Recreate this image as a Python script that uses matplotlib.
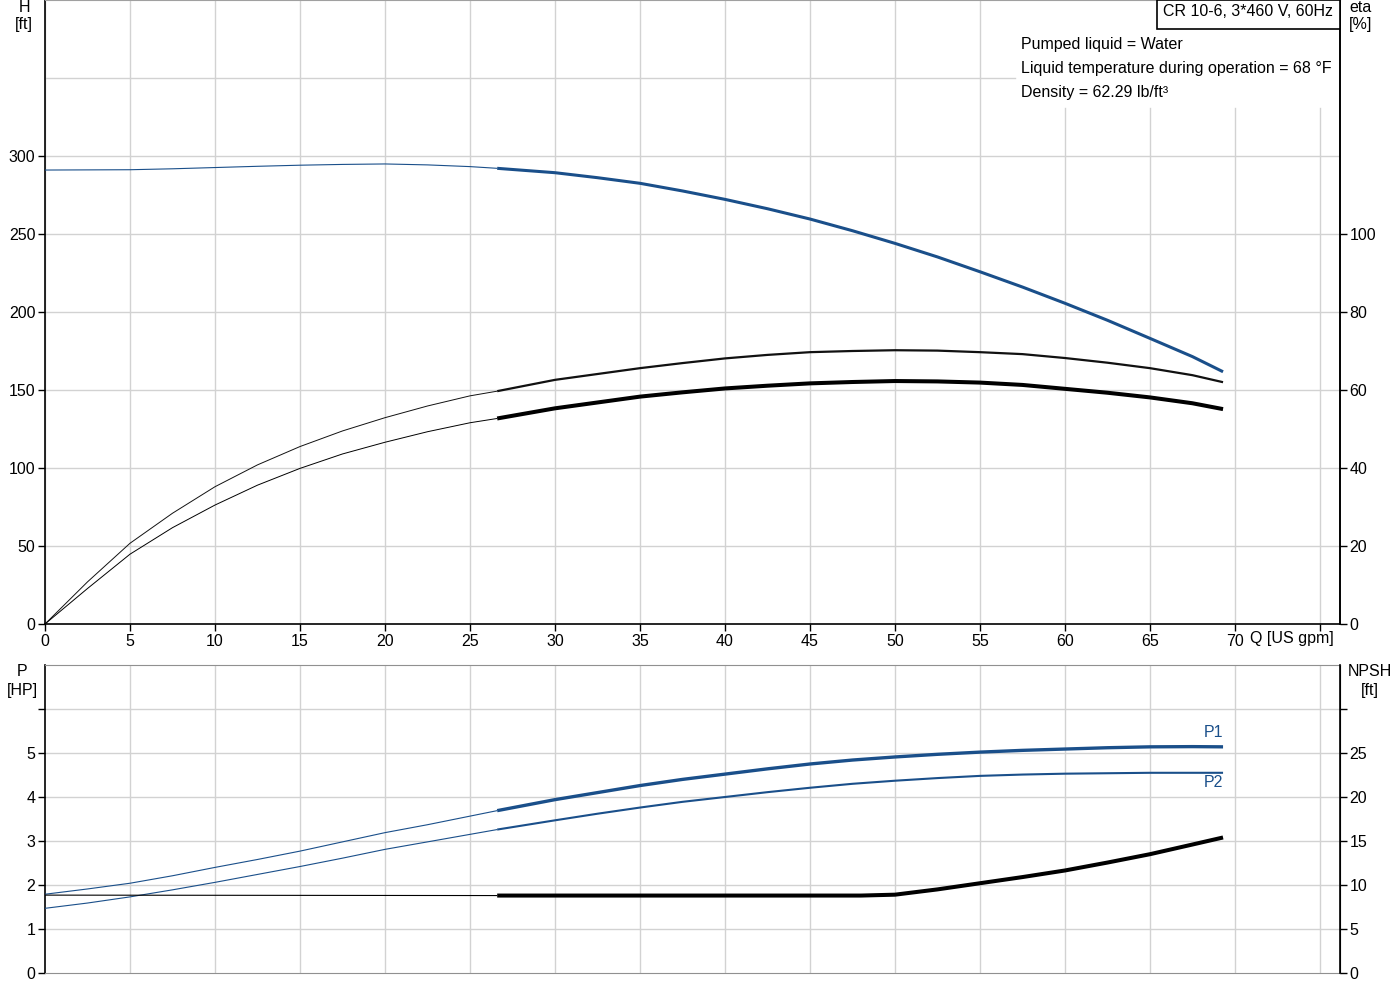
import numpy as np
import matplotlib
matplotlib.use("Agg")
import matplotlib.pyplot as plt
from matplotlib.patches import Rectangle

plt.rcParams['font.family'] = ['Liberation Sans', 'DejaVu Sans']
plt.rcParams['font.size'] = 11.5

# --- data ---
# head curve H [ft]
q_h = [0, 5, 7.5, 10, 12.5, 15, 17.5, 20, 22.5, 25, 26.6, 30, 32.5, 35, 37.5, 40, 42.5, 45,
       47.5, 50, 52.5, 55, 57.5, 60, 62.5, 65, 67.5, 69.3]
head = [291, 291.2, 291.8, 292.6, 293.4, 294.1, 294.6, 294.9, 294.3, 293.2, 292.1, 289.3, 286.1,
        282.5, 277.6, 272.2, 266.2, 259.6, 252.1, 244.0, 235.3, 225.8, 216.0, 205.6, 194.7,
        183.1, 171.4, 161.7]

# efficiency curves [%]
q_eta = [0, 2.5, 5, 7.5, 10, 12.5, 15, 17.5, 20, 22.5, 25, 26.6, 30, 32.5, 35, 37.5, 40, 42.5,
         45, 47.5, 50, 52.5, 55, 57.5, 60, 62.5, 65, 67.5, 69.3]
eta_pump = [0, 10.8, 20.7, 28.4, 35.2, 40.8, 45.5, 49.5, 52.9, 55.9, 58.5, 59.7, 62.6, 64.1,
            65.6, 66.9, 68.1, 69.0, 69.7, 70.0, 70.2, 70.1, 69.7, 69.2, 68.2, 67.0, 65.6, 63.8, 62.0]
eta_total = [0, 9.1, 17.9, 24.7, 30.5, 35.6, 39.9, 43.6, 46.6, 49.3, 51.6, 52.7, 55.3, 56.8,
             58.3, 59.4, 60.4, 61.1, 61.7, 62.05, 62.3, 62.2, 61.9, 61.3, 60.3, 59.3, 58.1, 56.6, 55.1]

# power curves [HP]
q_p = [0, 2.5, 5, 7.5, 10, 12.5, 15, 17.5, 20, 22.5, 26.6, 30, 32.5, 35, 37.5, 40, 42.5, 45,
       47.5, 50, 52.5, 55, 57.5, 60, 62.5, 65, 67.5, 69.3]
p1 = [1.79, 1.91, 2.04, 2.21, 2.40, 2.58, 2.77, 2.98, 3.19, 3.37, 3.69, 3.94, 4.10, 4.26, 4.40,
      4.52, 4.64, 4.75, 4.84, 4.91, 4.97, 5.02, 5.06, 5.09, 5.12, 5.14, 5.145, 5.14]
p2 = [1.47, 1.59, 1.73, 1.89, 2.06, 2.24, 2.42, 2.61, 2.81, 2.98, 3.26, 3.47, 3.62, 3.76, 3.89,
      4.00, 4.11, 4.21, 4.30, 4.37, 4.43, 4.48, 4.51, 4.53, 4.54, 4.55, 4.55, 4.55]

# NPSH [ft]
q_npsh = [0, 26.6, 45, 48, 50, 52.5, 55, 57.5, 60, 62.5, 65, 67.5, 69.3]
npsh = [8.85, 8.8, 8.8, 8.8, 8.9, 9.5, 10.2, 10.9, 11.65, 12.55, 13.5, 14.6, 15.4]

q_split = 26.6          # start of the operating range (thick part)
q_max = 76.18
x_ticks = list(range(0, 80, 5))
h_ticks = [0, 50, 100, 150, 200, 250, 300]
eta_ticks = [0, 20, 40, 60, 80, 100]
p_ticks = [0, 1, 2, 3, 4, 5, 6]
npsh_ticks = [0, 5, 10, 15, 20, 25, 30]

blue = "#1a4f8a"
grid_c = "#d2d2d2"


def split_plot(ax, x, y, color, lw_thin, lw_thick):
    x = np.asarray(x, float)
    y = np.asarray(y, float)
    m1 = x <= q_split
    m2 = x >= q_split
    ax.plot(x[m1], y[m1], color=color, lw=lw_thin, zorder=3, solid_capstyle='butt')
    ax.plot(x[m2], y[m2], color=color, lw=lw_thick, zorder=3, solid_capstyle='butt',
            solid_joinstyle='round')


fig = plt.figure(figsize=(14, 10), dpi=100)
W, H = 1400, 1000

# ---------- top chart: H and eta ----------
ax = fig.add_axes([45 / W, 1 - 624 / H, 1295 / W, 624 / H])
ax.set_xlim(0, q_max)
ax.set_ylim(0, 400)
for xv in x_ticks:
    top = 330.8 if xv * 17 + 45 > 1015 else 400
    ax.plot([xv, xv], [0, top], color=grid_c, lw=1, zorder=0.5)
for yv in range(50, 400, 50):
    ax.axhline(yv, color=grid_c, lw=1, zorder=0.5, xmax=(1015 - 45) / 1295 if yv > 330 else 1)

split_plot(ax, q_h, head, blue, 0.8, 2.2)

ax.set_xticks(x_ticks)
ax.set_xticklabels([str(v) if v <= 70 else '' for v in x_ticks])
ax.set_yticks(h_ticks)
ax.tick_params(direction='out', length=5, width=1, pad=2, colors='black')
for s in ['left', 'bottom', 'right']:
    ax.spines[s].set_color('black')
    ax.spines[s].set_linewidth(1.2)
ax.spines['top'].set_color('#a0a0a0')

ax2 = ax.twinx()
ax2.set_ylim(0, 160)
split_plot(ax2, q_eta, eta_pump, '#111111', 0.7, 1.6)
split_plot(ax2, q_eta, eta_total, 'black', 0.7, 2.9)
ax2.set_yticks(eta_ticks)
ax2.tick_params(direction='out', length=5, width=1, pad=2)
ax2.spines['right'].set_linewidth(1.2)
for s in ['top', 'left', 'bottom']:
    ax2.spines[s].set_visible(False)

# info text block
fig.text(1021 / W, 1 - 44 / H, "Pumped liquid = Water", va='center', ha='left')
fig.text(1021 / W, 1 - 68 / H, "Liquid temperature during operation = 68 \u00b0F", va='center', ha='left')
fig.text(1021 / W, 1 - 92 / H, "Density = 62.29 lb/ft\u00b3", va='center', ha='left')
fig.patches.append(Rectangle((1157 / W, 1 - 29 / H), 183 / W, 29 / H, transform=fig.transFigure,
                             facecolor='white', edgecolor='black', lw=1.2, zorder=5))
fig.text(1163 / W, 1 - 12 / H, "CR 10-6, 3*460 V, 60Hz", va='center', ha='left', zorder=6)

fig.text(24 / W, 1 - 8 / H, "H", ha='center', va='center')
fig.text(24 / W, 1 - 25 / H, "[ft]", ha='center', va='center')
fig.text(1361 / W, 1 - 8 / H, "eta", ha='center', va='center')
fig.text(1361 / W, 1 - 25 / H, "[%]", ha='center', va='center')
fig.text(1292 / W, 1 - 639 / H, "Q [US gpm]", ha='center', va='center')

# ---------- bottom chart: P and NPSH ----------
bx = fig.add_axes([45 / W, 1 - 973 / H, 1295 / W, 308 / H])
bx.set_xlim(0, q_max)
bx.set_ylim(0, 7)
for xv in x_ticks[1:]:
    bx.axvline(xv, color=grid_c, lw=1, zorder=0.5)
for yv in range(1, 7):
    bx.axhline(yv, color=grid_c, lw=1, zorder=0.5)

split_plot(bx, q_p, p1, blue, 0.8, 2.4)
split_plot(bx, q_p, p2, blue, 0.8, 1.5)
bx.text(69.3, 5.47, "P1", color=blue, ha='right', va='center')
bx.text(69.3, 4.33, "P2", color=blue, ha='right', va='center')

bx.set_xticks([])
bx.set_yticks(p_ticks)
bx.set_yticklabels([str(v) if v < 6 else '' for v in p_ticks])
bx.tick_params(direction='out', length=5, width=1, pad=2)
bx.spines['left'].set_color('black')
bx.spines['left'].set_linewidth(1.2)
bx.spines['top'].set_color('#909090')
bx.spines['bottom'].set_color('#909090')

bx2 = bx.twinx()
bx2.set_ylim(0, 35)
split_plot(bx2, q_npsh, npsh, 'black', 0.8, 2.9)
bx2.set_yticks(npsh_ticks)
bx2.set_yticklabels([str(v) if v < 30 else '' for v in npsh_ticks])
bx2.tick_params(direction='out', length=5, width=1, pad=2)
bx2.spines['right'].set_linewidth(1.2)
for s in ['top', 'left', 'bottom']:
    bx2.spines[s].set_visible(False)

fig.text(22 / W, 1 - 672 / H, "P", ha='center', va='center')
fig.text(22 / W, 1 - 690 / H, "[HP]", ha='center', va='center')
fig.text(1370 / W, 1 - 672 / H, "NPSH", ha='center', va='center')
fig.text(1370 / W, 1 - 690 / H, "[ft]", ha='center', va='center')

fig.savefig("out.png", dpi=100, facecolor='white')
